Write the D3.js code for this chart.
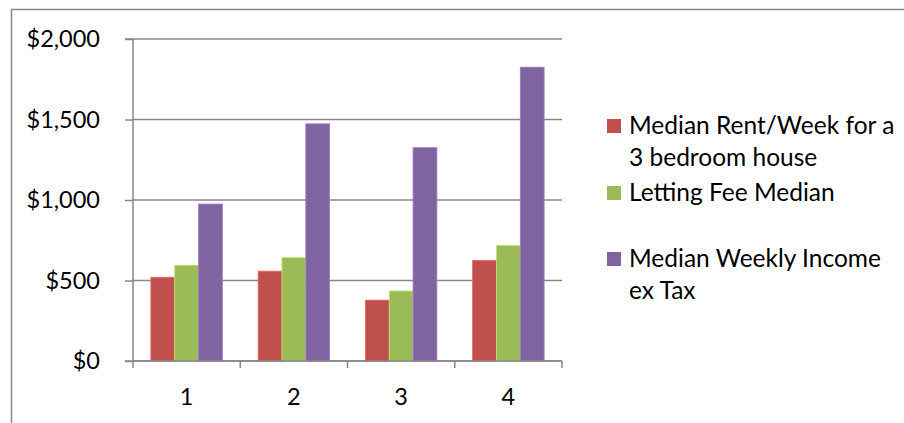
<!DOCTYPE html>
<html><head><meta charset="utf-8">
<script src="https://cdn.jsdelivr.net/npm/d3@7"></script>
<style>body{margin:0;background:#fff}svg{display:block}text{font-family:Lato,"Open Sans",sans-serif;fill:#000}</style>
</head><body><svg id="c" width="904" height="423"></svg>
<script>
const categories = ["1","2","3","4"];
const seriesNames = ["Median Rent/Week for a 3 bedroom house","Letting Fee Median","Median Weekly Income ex Tax"];
const rent = [520, 558, 378, 625];
const lettingFee = [595, 642, 435, 718];
const income = [975, 1473, 1325, 1825];
const yTicks = [0, 500, 1000, 1500, 2000];
const colors = ["#C0504D","#9BBB59","#8064A2"];
const legendLines = [["Median Rent/Week for a","3 bedroom house"],["Letting Fee Median"],["Median Weekly Income","ex Tax"]];

(function(){
const series = [rent, lettingFee, income];
const svg = d3.select("#c");
const pL = 133, pR = 562, pT = 39, pB = 361;
const grid = "#878787";
const fs = 23.5, lfs = 24.5;

// outer frame
svg.append("path").attr("d","M11.5,423 V9.5 H904").attr("fill","none").attr("stroke",grid).attr("stroke-width",1.5);

const x = d3.scaleBand().domain(categories).range([pL, pR]).paddingInner(0).paddingOuter(0);
const y = d3.scaleLinear().domain([0, 2000]).range([pB, pT]);
const bw = x.bandwidth();
const xs = d3.scaleBand().domain(d3.range(3)).range([0, bw]).paddingInner(0).paddingOuter(0.75);

// gridlines
svg.append("g").selectAll("line").data(yTicks).join("line")
  .attr("x1", pL).attr("x2", pR)
  .attr("y1", d => y(d)).attr("y2", d => y(d))
  .attr("stroke", grid).attr("stroke-width", 1.5);

// bars
series.forEach((vals, si) => {
  svg.append("g").selectAll("rect").data(vals).join("rect")
    .attr("x", (d,i) => x(categories[i]) + xs(si))
    .attr("width", xs.bandwidth())
    .attr("y", d => y(d))
    .attr("height", d => y(0) - y(d))
    .attr("fill", colors[si])
    .attr("stroke", d3.color(colors[si]).brighter(0.6)).attr("stroke-width", 0.8);
});

// y axis
const yAxis = d3.axisLeft(y).tickValues(yTicks).tickSize(8).tickPadding(25)
  .tickFormat(d => "$" + d3.format(",")(d));
const gy = svg.append("g").attr("transform", `translate(${pL},0)`).call(yAxis);
gy.select(".domain").attr("stroke", grid).attr("stroke-width", 1.5).attr("d", `M-8,${pB}H0V${pT}H-8`);
gy.selectAll(".tick line").attr("stroke", grid).attr("stroke-width", 1.5);
gy.selectAll(".tick text").attr("font-size", fs).attr("font-family","Lato");

// x axis
const xTickPos = categories.map(c => x(c)).concat([pR]);
svg.append("line").attr("x1", pL).attr("x2", pR).attr("y1", pB).attr("y2", pB).attr("stroke", grid).attr("stroke-width", 1.5);
svg.append("g").selectAll("line").data(xTickPos).join("line")
  .attr("x1", d => d).attr("x2", d => d).attr("y1", pB).attr("y2", pB + 7)
  .attr("stroke", grid).attr("stroke-width", 1.5);
svg.append("g").selectAll("text").data(categories).join("text")
  .attr("x", d => x(d) + bw/2).attr("y", 405)
  .attr("text-anchor","middle").attr("font-size", fs).text(d => d);

// legend
const legY = [119, 186, 252];
const lg = svg.append("g");
legendLines.forEach((lines, i) => {
  lg.append("rect").attr("x", 607).attr("y", legY[i]).attr("width", 14).attr("height", 14).attr("fill", colors[i]);
  lines.forEach((t, j) => {
    lg.append("text").attr("x", 629).attr("y", legY[i] + 15 + j * 32).attr("font-size", lfs).text(t);
  });
});
})();
</script></body></html>
